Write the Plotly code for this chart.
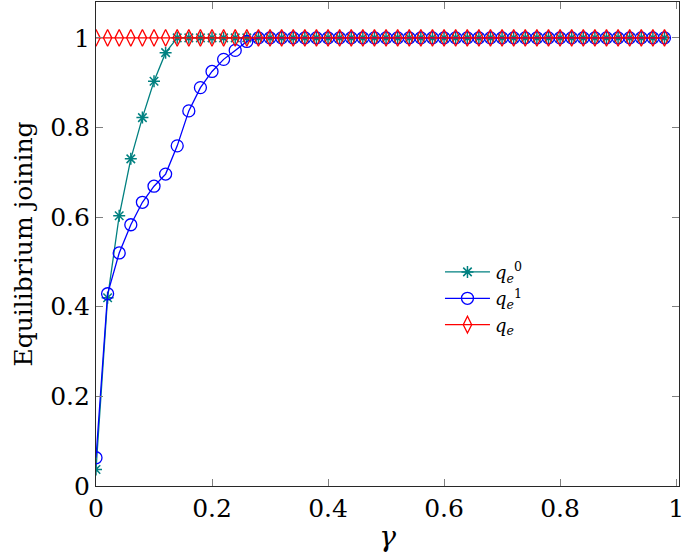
import plotly.graph_objects as go

gamma = [round(0.02 * i, 2) for i in range(50)]

q0_head = [0.037, 0.42, 0.603, 0.73, 0.822, 0.903, 0.967]
q1_head = [0.063, 0.429, 0.52, 0.583, 0.633, 0.669, 0.696, 0.759, 0.837,
           0.889, 0.925, 0.952, 0.972, 0.992]
q0 = q0_head + [1.0] * (len(gamma) - len(q0_head))
q1 = q1_head + [1.0] * (len(gamma) - len(q1_head))
qe = [1.0] * len(gamma)

x_ticks = [0, 0.2, 0.4, 0.6, 0.8, 1]
y_ticks = [0, 0.2, 0.4, 0.6, 0.8, 1]

serif = "DejaVu Serif"

fig = go.Figure()
fig.add_trace(go.Scatter(
    x=gamma, y=q0, mode="lines+markers",
    name="<i>q</i><sub><i>e</i></sub><sup>0</sup>",
    line=dict(color="rgb(0,128,128)", width=1.3),
    marker=dict(symbol="asterisk-open", size=10,
                line=dict(color="rgb(0,128,128)", width=1.5)),
))
fig.add_trace(go.Scatter(
    x=gamma, y=q1, mode="lines+markers",
    name="<i>q</i><sub><i>e</i></sub><sup>1</sup>",
    line=dict(color="rgb(0,0,255)", width=1.3),
    marker=dict(symbol="circle-open", size=12,
                line=dict(color="rgb(0,0,255)", width=1.3)),
))
fig.add_trace(go.Scatter(
    x=gamma, y=qe, mode="lines+markers",
    name="<i>q<sub>e</sub></i>",
    line=dict(color="rgb(255,0,0)", width=1.3),
    marker=dict(symbol="diamond-tall-open", size=12,
                line=dict(color="rgb(255,0,0)", width=1.3)),
))

axis_common = dict(
    showgrid=False, zeroline=False, showline=True, linecolor="rgb(40,40,40)",
    linewidth=1.2, mirror="ticks", ticks="inside", ticklen=7,
    tickcolor="rgb(128,128,128)", tickwidth=1,
    tickfont=dict(family=serif, size=25, color="black"),
    ticklabeloverflow="allow",
)

fig.update_layout(
    width=685, height=555,
    margin=dict(l=96, r=2, t=1, b=69),
    paper_bgcolor="white", plot_bgcolor="white",
    font=dict(family=serif, color="black"),
    xaxis=dict(range=[0, 1.005], tickvals=x_ticks,
               ticktext=[str(v) for v in x_ticks],
               title=dict(text="<i>γ</i>", font=dict(family=serif, size=28),
                          standoff=4),
               **axis_common),
    yaxis=dict(range=[0, 1.08], tickvals=y_ticks,
               ticktext=[str(v) for v in y_ticks],
               title=dict(text="Equilibrium joining",
                          font=dict(family=serif, size=25), standoff=10),
               **axis_common),
    legend=dict(x=0.59, y=0.48, xanchor="left", yanchor="top",
                bgcolor="rgba(0,0,0,0)", borderwidth=0, itemwidth=45,
                font=dict(family=serif, size=18), tracegroupgap=2),
    showlegend=True,
)

fig.write_html("out.html",
               config={"displayModeBar": False},
               post_script="document.body.style.margin='0';"
                           "document.body.style.padding='0';")
